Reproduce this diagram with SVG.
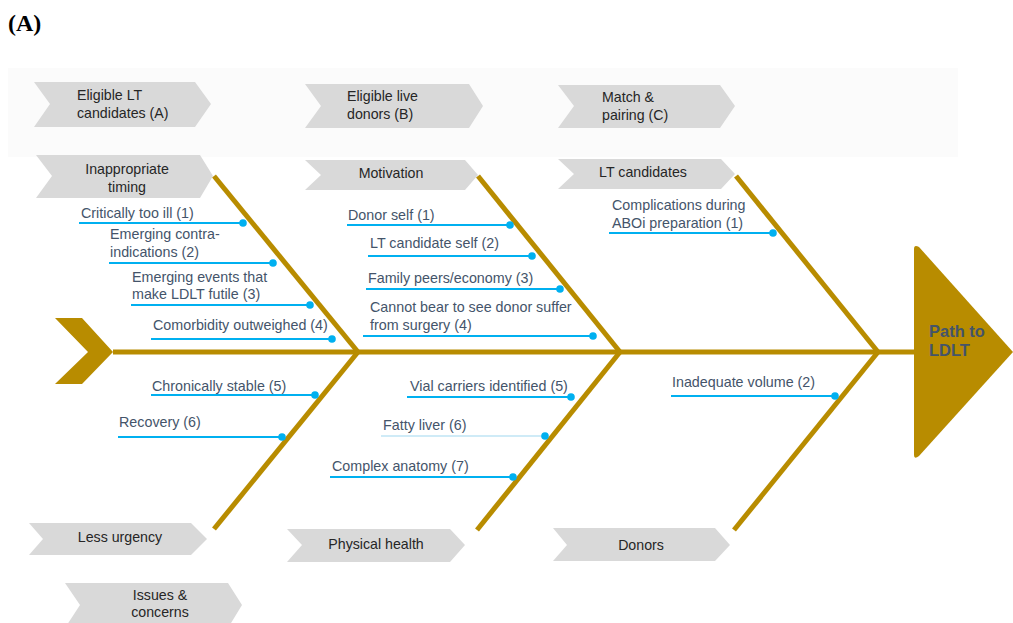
<svg xmlns="http://www.w3.org/2000/svg" width="1013" height="623" viewBox="0 0 1013 623">
<style>
.chev{fill:#d9d9d9}
.ct{font-family:"Liberation Sans",Arial,sans-serif;font-size:14.2px;fill:#262626}
.it{font-family:"Liberation Sans",Arial,sans-serif;font-size:14.3px;fill:#44546a}
.lead{stroke:#00b0f0;stroke-width:2;fill:none}
.dot{fill:#00b0f0}
.bone{stroke:#b88c00;stroke-width:5;fill:none;stroke-linecap:butt}
.gold{fill:#b88c00}
</style>
<rect x="0" y="0" width="1013" height="623" fill="#ffffff"/>
<rect x="8" y="68" width="950" height="89" fill="#fbfbfb"/>
<text x="8" y="31" font-family="Liberation Serif,Times New Roman,serif" font-weight="bold" font-size="24" fill="#000">(A)</text>

<g id="connectors">
<line class="bone" x1="113" y1="352" x2="915" y2="352"/>
<line class="bone" x1="214" y1="176" x2="358" y2="352"/>
<line class="bone" x1="358" y1="352" x2="214" y2="529"/>
<line class="bone" x1="478" y1="176" x2="620" y2="352"/>
<line class="bone" x1="620" y1="352" x2="477" y2="530"/>
<line class="bone" x1="736" y1="176" x2="878" y2="352"/>
<line class="bone" x1="878" y1="352" x2="734" y2="530"/>
</g>

<g id="tail"><polygon class="gold" points="55,318 82,318 113,352 82,384 55,384 88,352"/></g>
<g id="head">
<path class="gold" d="M914,249 Q914,244 919,247 L1013,352 L919,456 Q914,460 914,455 Z"/>
<text x="929" y="337" font-family="Liberation Sans,Arial,sans-serif" font-weight="bold" font-size="16.5" fill="#44546a">Path to</text>
<text x="929" y="356" font-family="Liberation Sans,Arial,sans-serif" font-weight="bold" font-size="16.5" fill="#44546a">LDLT</text>
</g>

<g id="cat-A"><polygon class="chev" points="34,82 195,82 211,104 195,127 34,127 50,104"/>
<text class="ct" x="77" y="100">Eligible LT</text><text class="ct" x="77" y="118">candidates (A)</text></g>
<g id="cat-B"><polygon class="chev" points="305,84 469,84 483,106 469,128 305,128 321,106"/>
<text class="ct" x="347" y="101">Eligible live</text><text class="ct" x="347" y="119">donors (B)</text></g>
<g id="cat-C"><polygon class="chev" points="558,85 720,85 735,106 720,128 558,128 574,106"/>
<text class="ct" x="602" y="102">Match &amp;</text><text class="ct" x="602" y="120">pairing (C)</text></g>

<g id="timing"><polygon class="chev" points="36,155 200,155 213,176 200,198 36,198 52,176"/>
<text class="ct" x="127" y="174" text-anchor="middle">Inappropriate</text><text class="ct" x="127" y="192" text-anchor="middle">timing</text></g>
<g id="motivation"><polygon class="chev" points="305,160 465,160 478,175 465,190 305,190 321,175"/>
<text class="ct" x="391" y="178" text-anchor="middle">Motivation</text></g>
<g id="lt-candidates"><polygon class="chev" points="558,159 721,159 735,174 721,189 558,189 574,174"/>
<text class="ct" x="643" y="177" text-anchor="middle">LT candidates</text></g>

<g id="less-urgency"><polygon class="chev" points="29,523 191,523 207,539 191,555 29,555 43,539"/>
<text class="ct" x="120" y="542" text-anchor="middle">Less urgency</text></g>
<g id="physical-health"><polygon class="chev" points="287,529 450,529 465,545 450,562 287,562 302,545"/>
<text class="ct" x="376" y="549" text-anchor="middle">Physical health</text></g>
<g id="donors"><polygon class="chev" points="553,528 715,528 730,545 715,561 553,561 567,545"/>
<text class="ct" x="641" y="550" text-anchor="middle">Donors</text></g>
<g id="issues"><polygon class="chev" points="65,583 228,583 242,605 228,628 65,628 80,605"/>
<text class="ct" x="160" y="600" text-anchor="middle">Issues &amp;</text><text class="ct" x="160" y="617" text-anchor="middle">concerns</text></g>

<g id="a1"><text class="it" x="81" y="218">Critically too ill (1)</text><line class="lead" x1="79" y1="223" x2="243" y2="223"/><circle class="dot" cx="243" cy="223" r="3.8"/></g>
<g id="a2"><text class="it" x="110" y="239">Emerging contra-</text><text class="it" x="110" y="257">indications (2)</text><line class="lead" x1="109" y1="263" x2="273" y2="263"/><circle class="dot" cx="273" cy="263" r="3.8"/></g>
<g id="a3"><text class="it" x="132" y="282">Emerging events that</text><text class="it" x="132" y="299">make LDLT futile (3)</text><line class="lead" x1="131" y1="305" x2="310" y2="305"/><circle class="dot" cx="310" cy="305" r="3.8"/></g>
<g id="a4"><text class="it" x="153" y="330">Comorbidity outweighed (4)</text><line class="lead" x1="151" y1="339" x2="332" y2="339"/><circle class="dot" cx="332" cy="339" r="3.8"/></g>
<g id="a5"><text class="it" x="152" y="391">Chronically stable (5)</text><line class="lead" x1="151" y1="395" x2="315" y2="395"/><circle class="dot" cx="315" cy="395" r="3.8"/></g>
<g id="a6"><text class="it" x="119" y="427">Recovery (6)</text><line class="lead" x1="118" y1="437" x2="282" y2="437"/><circle class="dot" cx="282" cy="437" r="3.8"/></g>

<g id="b1"><text class="it" x="348" y="220">Donor self (1)</text><line class="lead" x1="347" y1="225" x2="510" y2="225"/><circle class="dot" cx="510" cy="225" r="3.8"/></g>
<g id="b2"><text class="it" x="370" y="248">LT candidate self (2)</text><line class="lead" x1="368" y1="256" x2="532" y2="256"/><circle class="dot" cx="532" cy="256" r="3.8"/></g>
<g id="b3"><text class="it" x="368" y="283">Family peers/economy (3)</text><line class="lead" x1="366" y1="289" x2="560" y2="289"/><circle class="dot" cx="560" cy="289" r="3.8"/></g>
<g id="b4"><text class="it" x="370" y="312">Cannot bear to see donor suffer</text><text class="it" x="370" y="330">from surgery (4)</text><line class="lead" x1="363" y1="336" x2="593" y2="336"/><circle class="dot" cx="593" cy="336" r="3.8"/></g>
<g id="b5"><text class="it" x="410" y="391">Vial carriers identified (5)</text><line class="lead" x1="407" y1="397" x2="571" y2="397"/><circle class="dot" cx="571" cy="397" r="3.8"/></g>
<g id="b6"><text class="it" x="383" y="430">Fatty liver (6)</text><line x1="381" y1="436" x2="545" y2="436" stroke="#9fd8f0" stroke-width="1.2"/><circle class="dot" cx="545" cy="436" r="3.8"/></g>
<g id="b7"><text class="it" x="332" y="471">Complex anatomy (7)</text><line class="lead" x1="330" y1="477" x2="513" y2="477"/><circle class="dot" cx="513" cy="477" r="3.8"/></g>

<g id="c1"><text class="it" x="612" y="210">Complications during</text><text class="it" x="612" y="228">ABOi preparation (1)</text><line class="lead" x1="609" y1="233" x2="773" y2="233"/><circle class="dot" cx="773" cy="233" r="3.8"/></g>
<g id="c2"><text class="it" x="672" y="387">Inadequate volume (2)</text><line class="lead" x1="671" y1="396" x2="835" y2="396"/><circle class="dot" cx="835" cy="396" r="3.8"/></g>
</svg>
